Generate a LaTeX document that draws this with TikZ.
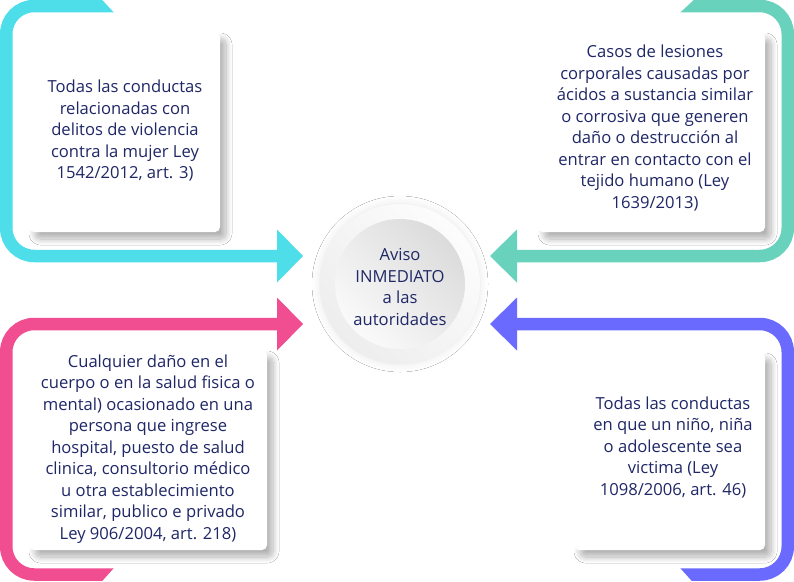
\documentclass[tikz,border=0pt]{standalone}
\usepackage{fontspec}
\setmainfont{Open Sans}
\usetikzlibrary{shadows.blur}
\definecolor{cyanc}{HTML}{4DDEEA}
\definecolor{tealc}{HTML}{68D2BD}
\definecolor{pinkc}{HTML}{F04E91}
\definecolor{purpc}{HTML}{6A6AFF}
\definecolor{navy}{HTML}{1F2766}
\tikzset{
  band/.style={line width=12.5pt, rounded corners=28pt},
  head/.style={fill=#1, draw=none},
  card/.style={rectangle, rounded corners=5pt, fill=white, draw=none,
    blur shadow={shadow xshift=6pt, shadow yshift=-7pt, shadow blur radius=6pt, shadow blur steps=12, shadow opacity=30}},
  txt/.style={align=center, text=navy, inner sep=0pt, font=\fontsize{16.6}{21.5}\selectfont},
  cutter/.style={fill=white, draw=none}
}
\begin{document}
\begin{tikzpicture}[x=1pt,y=-1pt]
\useasboundingbox (0,0) rectangle (794,581);
\fill[white] (0,0) rectangle (794,581);

% ---------- frames ----------
% cyan (top-left)
\coordinate (cyS) at (114,6);
\coordinate (cyE) at (278,256);
\coordinate (cyT) at (303,256);
\draw[band, draw=cyanc] (cyS) -- (6.25,6) -- (6.25,256) -- (cyE);
\fill[cutter] (101.5,-1) -- (115,-1) -- (115,13.5) -- cycle;
\fill[head=cyanc] (277,229.5) -- (cyT) -- (277,282.5) -- cycle;

% teal (top-right)
\coordinate (teS) at (680,6);
\coordinate (teE) at (516,256);
\coordinate (teT) at (490,256);
\draw[band, draw=tealc] (teS) -- (787.75,6) -- (787.75,256) -- (teE);
\fill[cutter] (694.5,-1) -- (679,-1) -- (679,13.5) -- cycle;
\fill[head=tealc] (517,229.5) -- (teT) -- (517,282.5) -- cycle;

% pink (bottom-left)
\coordinate (piS) at (114,574.5);
\coordinate (piE) at (278,324);
\coordinate (piT) at (303,324);
\draw[band, draw=pinkc] (piS) -- (6.25,574.5) -- (6.25,324) -- (piE);
\fill[cutter] (101.5,582) -- (115,582) -- (115,567) -- cycle;
\fill[head=pinkc] (277,297.5) -- (piT) -- (277,350.5) -- cycle;

% purple (bottom-right)
\coordinate (puS) at (680,574.5);
\coordinate (puE) at (516,324);
\coordinate (puT) at (490,324);
\draw[band, draw=purpc] (puS) -- (787.75,574.5) -- (787.75,324) -- (puE);
\fill[cutter] (692.5,582) -- (679,582) -- (679,567) -- cycle;
\fill[head=purpc] (517,297.5) -- (puT) -- (517,350.5) -- cycle;

% ---------- cards ----------
\node[card, minimum width=191pt, minimum height=200pt] (c1) at (124.5,132) {};
\node[card, minimum width=227pt, minimum height=200pt] (c2) at (651.5,132) {};
\node[card, minimum width=238pt, minimum height=200pt] (c3) at (148,450) {};
\node[card, minimum width=191pt, minimum height=198pt] (c4) at (669.5,451) {};

\node[txt] (t1) at (125,131) {Todas las conductas\\relacionadas con\\delitos de violencia\\contra la mujer Ley\\1542/2012, art. 3)};
\node[txt] (t2) at (655,128) {Casos de lesiones\\corporales causadas por\\ácidos a sustancia similar\\o corrosiva que generen\\daño o destrucción al\\entrar en contacto con el\\tejido humano (Ley\\1639/2013)};
\node[txt] (t3) at (148,449) {Cualquier daño en el\\cuerpo o en la salud fisica o\\mental) ocasionado en una\\persona que ingrese\\hospital, puesto de salud\\clinica, consultorio médico\\u otra establecimiento\\similar, publico e privado\\Ley 906/2004, art. 218)};
\node[txt] (t4) at (673,447) {Todas las conductas\\en que un niño, niña\\o adolescente sea\\victima (Ley\\1098/2006, art. 46)};

% ---------- centre ----------
\node[circle, minimum size=160pt, inner sep=0pt, draw=none,
  shading=axis, left color=gray!2, right color=gray!14, shading angle=-45,
  blur shadow={shadow xshift=0pt, shadow yshift=0pt, shadow blur radius=8pt, shadow opacity=10}] (ring) at (400,284) {};
\node[circle, minimum size=130pt, inner sep=0pt, draw=none,
  shading=axis, left color=gray!28, right color=gray!4, shading angle=-45] (core) at (ring.center) {};
\node[txt] (tc) at (400,287) {Aviso\\INMEDIATO\\a las\\autoridades};
\end{tikzpicture}
\end{document}
